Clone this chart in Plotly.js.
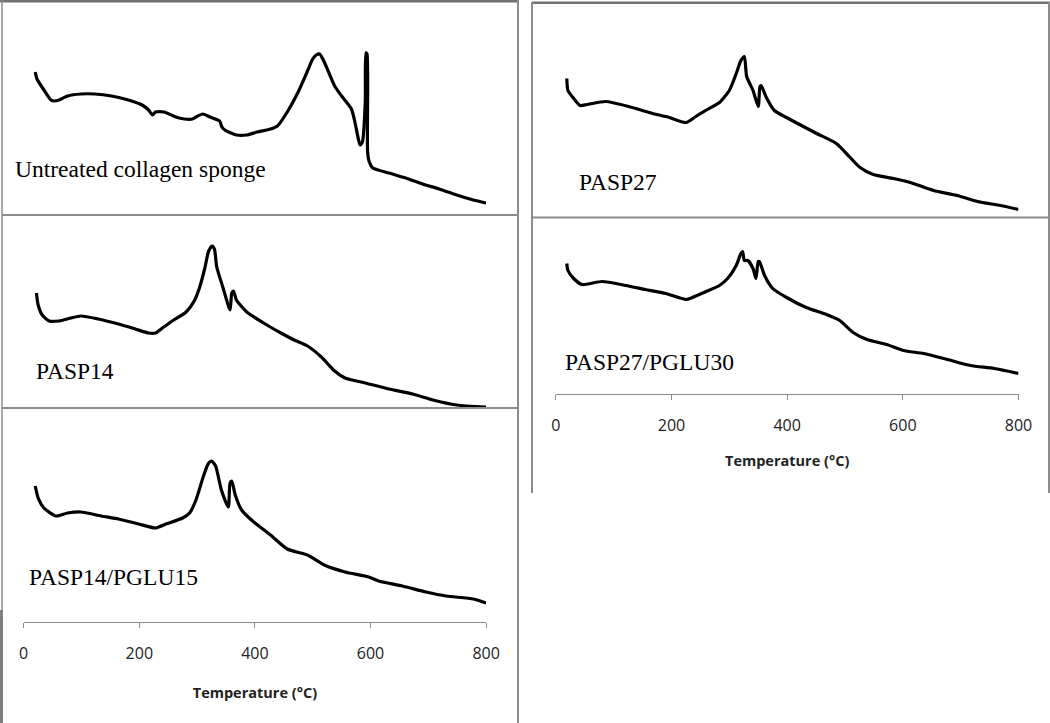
<!DOCTYPE html>
<html>
<head>
<meta charset="utf-8">
<script src="https://cdn.plot.ly/plotly-3.0.1.min.js"></script>
<style>html,body{margin:0;padding:0;background:#fff;}#chart{width:1050px;height:723px;}</style>
</head>
<body>
<div id="chart"></div>
<script>
// ---- data (temperature in °C, signal in arbitrary units) ----
const tempUntreated = [20,23,35,47,53,61,76,99,123,152,181,205,216,223,228,243,263,278,292,298,310,322,339,343,348,368,386,404,427,439,456,474,491,500,506,512,520,538,550,567,573,579,582,586,591,592,594,595,598,604,632,661,690,719,749,778,800];
const sigUntreated  = [143,136,125,115,114,115,119,121,121,119,115,110,105,100,103,103,98,96,96,98,101,98,94,88,85,80,80,83,86,89,103,122,144,156,160,161,153,129,119,106,93,76,70,73,114,162,161,63,53,47,42,37,31,26,20,15,12];

const tempPASP14 = [22,25,32,44,61,82,99,129,164,193,216,228,240,257,281,295,304,313,320,326,330,334,345,357,360,363,368,386,415,445,468,491,515,538,556,591,632,673,708,749,800];
const sigPASP14  = [115,103,93,87,87,90,92,89,84,79,75,75,80,87,96,107,120,139,157,162,159,141,120,98,115,117,108,96,85,75,68,62,51,37,30,25,19,14,8,3,1];

const tempPASP14PGLU15 = [20,25,35,56,76,99,134,164,199,228,246,275,287,298,310,319,325,332,342,354,357,360,366,377,398,427,456,491,520,556,597,614,655,696,731,778,800];
const sigPASP14PGLU15  = [136,124,114,106,109,110,106,103,98,94,98,104,109,122,144,158,161,156,132,115,139,141,127,112,100,87,73,67,57,50,45,41,36,30,26,23,19];

const tempPASP27 = [19,21,31,42,54,86,126,161,196,225,242,262,283,300,312,320,326,330,341,350,353,355,364,378,399,428,451,485,509,526,549,584,613,653,694,729,769,800];
const sigPASP27  = [139,127,119,112,113,116,111,105,100,95,101,108,115,127,144,157,161,141,127,111,131,132,120,107,100,91,84,74,60,50,43,39,35,27,22,16,12,8];

const tempPASP27PGLU30 = [19,21,31,45,80,121,155,190,225,236,260,283,297,312,320,323,326,332,341,346,350,352,361,375,399,433,468,491,514,538,572,601,636,677,717,758,800];
const sigPASP27PGLU30  = [130,123,115,109,112,108,104,100,94,96,102,108,115,128,140,142,133,133,125,115,132,132,118,105,96,86,79,73,61,54,49,43,40,34,28,25,20];

const sampleLabels = ['Untreated collagen sponge','PASP14','PASP14/PGLU15','PASP27','PASP27/PGLU30'];
const tickTemps = [0,200,400,600,800];
const axisTitle = 'Temperature (°C)';

// ---- layout helpers (pixel -> paper) ----
const W = 1050, H = 723;
const px = x => x / W;
const py = y => 1 - y / H;

const lineStyle = {color:'#000', width:3.2, shape:'spline', smoothing:0.6};
function trace(x, y, n){
  return {x:x, y:y, type:'scatter', mode:'lines', line:lineStyle,
          xaxis:'x'+(n===1?'':n), yaxis:'y'+(n===1?'':n), hoverinfo:'skip'};
}
const data = [
  trace(tempUntreated, sigUntreated, 1),
  trace(tempPASP14, sigPASP14, 2),
  trace(tempPASP14PGLU15, sigPASP14PGLU15, 3),
  trace(tempPASP27, sigPASP27, 4),
  trace(tempPASP27PGLU30, sigPASP27PGLU30, 5)
];

const leftX = [px(23.7), px(486.1)];
const rightX = [px(555.8), px(1018.5)];
const hiddenX = d => ({domain:d, range:[0,800], visible:false, fixedrange:true});
const hiddenY = (d, r) => ({domain:d, range:r, visible:false, fixedrange:true});
const shownX = (d, anchor, standoff) => ({
  domain:d, range:[0,800], anchor:anchor, showline:true, linecolor:'#8c8c8c', linewidth:1,
  ticks:'outside', ticklen:5, tickcolor:'#8c8c8c', tickwidth:1, tickvals:tickTemps,
  showgrid:false, zeroline:false, ticklabelstandoff:12,
  tickfont:{family:'Open Sans', size:16, color:'#222'},
  title:{text:axisTitle, standoff:standoff, font:{family:'Open Sans', size:14.5, weight:'bold', color:'#222'}}
});

const borderColor = '#8c8c8c';
function ln(x0,y0,x1,y1,w,c){
  return {type:'line', xref:'paper', yref:'paper', x0:px(x0), y0:py(y0), x1:px(x1), y1:py(y1),
          line:{color:c||borderColor, width:w||1.5}};
}
function rect(x0,y0,x1,y1,c){
  return {type:'rect', xref:'paper', yref:'paper', x0:px(x0), y0:py(y0), x1:px(x1), y1:py(y1),
          line:{width:0}, fillcolor:c};
}
const shapes = [
  rect(0,0,518,2.5,'#707070'),
  rect(532,1.5,1050,4,'#707070'),
  ln(2,0,2,610),
  rect(0,610,3,723,'#808080'),
  ln(518,0,518,723,2),
  ln(2,215,518,215,2),
  ln(2,408,518,408,2),
  ln(532,2,532,493,2),
  ln(1049,2,1049,493,2),
  ln(532,217.5,1049,217.5,2)
];

function label(text, x, y){
  return {text:text, xref:'paper', yref:'paper', x:px(x), y:py(y), xanchor:'left', yanchor:'middle',
          showarrow:false, font:{family:'Liberation Serif', size:23.5, color:'#000'}};
}
const annotations = [
  label(sampleLabels[0], 13, 168.5),
  label(sampleLabels[1], 34, 371.5),
  label(sampleLabels[2], 26.5, 577),
  label(sampleLabels[3], 576.5, 182),
  label(sampleLabels[4], 562.5, 362)
];

const layout = {
  width:W, height:H, margin:{l:0,r:0,t:0,b:0},
  paper_bgcolor:'#fff', plot_bgcolor:'rgba(0,0,0,0)', showlegend:false,
  xaxis: hiddenX(leftX),  yaxis: hiddenY([py(215), py(2)], [0,213]),
  xaxis2:hiddenX(leftX),  yaxis2:hiddenY([py(408), py(215)], [0,193]),
  xaxis3:shownX(leftX,'y3',24), yaxis3:hiddenY([py(622), py(408)], [0,214]),
  xaxis4:hiddenX(rightX), yaxis4:hiddenY([py(217.5), py(2)], [0,215.5]),
  xaxis5:shownX(rightX,'y5',21), yaxis5:hiddenY([py(393.5), py(217.5)], [0,176]),
  shapes:shapes, annotations:annotations
};
layout.xaxis.anchor='y'; layout.xaxis2.anchor='y2'; layout.xaxis4.anchor='y4';

Plotly.newPlot('chart', data, layout, {displayModeBar:false, staticPlot:true});
</script>
</body>
</html>
